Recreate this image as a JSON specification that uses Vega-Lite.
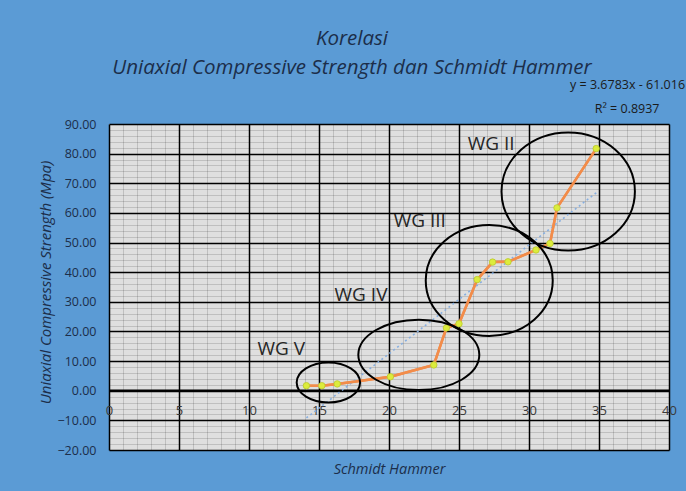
{
  "$schema": "https://vega.github.io/schema/vega-lite/v6.json",
  "width": 560,
  "height": 326,
  "autosize": {"type": "none"},
  "padding": {"left": 109, "top": 124, "right": 17, "bottom": 41},
  "background": "#5b9bd5",
  "config": {"view": {"fill": "#dfdfdf", "stroke": null}, "font": "Open Sans"},
  "title": {
    "text": ["Korelasi", "Uniaxial Compressive Strength dan Schmidt Hammer"],
    "fontSize": 20.5,
    "fontStyle": "italic",
    "fontWeight": "normal",
    "color": "#1c2e4a",
    "anchor": "middle",
    "frame": "group",
    "dx": -37,
    "offset": 1,
    "lineHeight": 29
  },
  "datasets": {
    "points": [
      {"SH": 14.1, "UCS": 1.7},
      {"SH": 15.2, "UCS": 1.7},
      {"SH": 16.3, "UCS": 2.3},
      {"SH": 20.1, "UCS": 4.7},
      {"SH": 23.2, "UCS": 8.7},
      {"SH": 24.1, "UCS": 21.2},
      {"SH": 25.0, "UCS": 22.6},
      {"SH": 26.3, "UCS": 37.5},
      {"SH": 27.4, "UCS": 43.4},
      {"SH": 28.5, "UCS": 43.5},
      {"SH": 30.5, "UCS": 47.5},
      {"SH": 31.5, "UCS": 49.7},
      {"SH": 32.0, "UCS": 61.7},
      {"SH": 34.8, "UCS": 81.7}
    ],
    "groups": [
      {"group": "WG II", "SH": 32.8, "UCS": 67.2, "lx": 27.3, "ly": 83.4},
      {"group": "WG III", "SH": 27.16, "UCS": 37.2, "lx": 22.2, "ly": 57.4},
      {"group": "WG IV", "SH": 22.13, "UCS": 12.1, "lx": 18.0, "ly": 32.2},
      {"group": "WG V", "SH": 15.67, "UCS": 2.8, "lx": 12.3, "ly": 14.2}
    ],
    "notes": [
      {"text": "y = 3.6783x - 61.016", "SH": 32.93, "UCS": 103.05},
      {"text": "R² = 0.8937", "SH": 34.7, "UCS": 94.9}
    ],
    "zero": [{"UCS": 0}]
  },
  "layer": [
    {
      "data": {"name": "points"},
      "mark": {"type": "line", "color": "#f28c4a", "strokeWidth": 2.5},
      "encoding": {
        "x": {
          "field": "SH",
          "type": "quantitative",
          "scale": {"domain": [0, 40], "nice": false, "zero": false},
          "axis": {
            "orient": "bottom",
            "values": [0,1,2,3,4,5,6,7,8,9,10,11,12,13,14,15,16,17,18,19,20,21,22,23,24,25,26,27,28,29,30,31,32,33,34,35,36,37,38,39,40],
            "tickCount": 200,
            "format": "d",
            "grid": true,
            "gridColor": {"condition": {"test": "datum.value % 5 === 0", "value": "#000000"}, "value": "rgba(0,0,0,0.14)"},
            "gridWidth": {"condition": {"test": "datum.value % 5 === 0", "value": 1.5}, "value": 1},
            "gridOpacity": 1,
            "domain": false,
            "ticks": false,
            "tickSize": 0,
            "labelExpr": "datum.value % 5 === 0 ? datum.label : ''",
            "labelPadding": -40,
            "labelBaseline": "middle",
            "labelFontSize": 13,
            "labelColor": "#3a3a3a",
            "labelFlush": false,
            "labelOverlap": false,
            "labelBound": false,
            "title": "Schmidt Hammer",
            "titleFontSize": 14.5,
            "titleFontStyle": "italic",
            "titleFontWeight": "normal",
            "titleColor": "#1c2e4a",
            "titleY": 19,
            "titleBaseline": "middle"
          }
        },
        "y": {
          "field": "UCS",
          "type": "quantitative",
          "scale": {"domain": [-20, 90], "nice": false, "zero": false},
          "axis": {
            "orient": "left",
            "values": [-20,-18,-16,-14,-12,-10,-8,-6,-4,-2,0,2,4,6,8,10,12,14,16,18,20,22,24,26,28,30,32,34,36,38,40,42,44,46,48,50,52,54,56,58,60,62,64,66,68,70,72,74,76,78,80,82,84,86,88,90],
            "tickCount": 200,
            "format": ".2f",
            "grid": true,
            "gridColor": {"condition": {"test": "datum.value % 10 === 0", "value": "#000000"}, "value": "rgba(0,0,0,0.14)"},
            "gridWidth": {"condition": {"test": "datum.value % 10 === 0", "value": 1.5}, "value": 1},
            "gridOpacity": 1,
            "domain": false,
            "ticks": false,
            "tickSize": 0,
            "labelExpr": "datum.value % 10 === 0 ? datum.label : ''",
            "labelPadding": 13,
            "labelFontSize": 12.5,
            "labelColor": "#1c2e4a",
            "labelOverlap": false,
            "labelBound": false,
            "labelFlush": false,
            "title": "Uniaxial Compressive Strength (Mpa)",
            "titleFontSize": 15,
            "titleFontStyle": "italic",
            "titleFontWeight": "normal",
            "titleColor": "#1c2e4a",
            "titleX": -64,
            "titleY": 158,
            "titleAlign": "center",
            "titleBaseline": "middle",
            "titleAngle": -90
          }
        }
      }
    },
    {
      "data": {"name": "zero"},
      "mark": {"type": "rule", "color": "#000000", "strokeWidth": 2.5},
      "encoding": {"y": {"field": "UCS", "type": "quantitative"}}
    },
    {
      "data": {"name": "points"},
      "transform": [{"regression": "UCS", "on": "SH"}],
      "mark": {"type": "line", "color": "#86aee0", "strokeWidth": 1.6, "strokeDash": [2, 3]},
      "encoding": {
        "x": {"field": "SH", "type": "quantitative"},
        "y": {"field": "UCS", "type": "quantitative"}
      }
    },
    {
      "data": {"name": "points"},
      "mark": {"type": "line", "color": "#f28c4a", "strokeWidth": 2.5},
      "encoding": {
        "x": {"field": "SH", "type": "quantitative"},
        "y": {"field": "UCS", "type": "quantitative"}
      }
    },
    {
      "data": {"name": "points"},
      "mark": {"type": "point", "filled": true, "fill": "#dcec3c", "stroke": "#b9c92e", "strokeWidth": 0.8, "size": 42, "opacity": 1},
      "encoding": {
        "x": {"field": "SH", "type": "quantitative"},
        "y": {"field": "UCS", "type": "quantitative"}
      }
    },
    {
      "data": {"name": "groups"},
      "mark": {"type": "point", "filled": false, "stroke": "#000000", "strokeWidth": 2, "size": 4, "opacity": 1},
      "encoding": {
        "x": {"field": "SH", "type": "quantitative"},
        "y": {"field": "UCS", "type": "quantitative"},
        "shape": {
          "field": "group",
          "type": "nominal",
          "legend": null,
          "scale": {
            "domain": ["WG II", "WG III", "WG IV", "WG V"],
            "range": [
              "M-66.7,0C-66.7,-32.6,-36.8,-59,0,-59C36.8,-59,66.7,-32.6,66.7,0C66.7,32.6,36.8,59,0,59C-36.8,59,-66.7,32.6,-66.7,0Z",
              "M-63.5,0C-63.5,-30.6,-35.1,-55.4,0,-55.4C35.1,-55.4,63.5,-30.6,63.5,0C63.5,30.6,35.1,55.4,0,55.4C-35.1,55.4,-63.5,30.6,-63.5,0Z",
              "M-60.5,0C-60.5,-19.4,-33.4,-35.2,0,-35.2C33.4,-35.2,60.5,-19.4,60.5,0C60.5,19.4,33.4,35.2,0,35.2C-33.4,35.2,-60.5,19.4,-60.5,0Z",
              "M-31.7,0C-31.7,-11.05,-17.5,-20,0,-20C17.5,-20,31.7,-11.05,31.7,0C31.7,11.05,17.5,20,0,20C-17.5,20,-31.7,11.05,-31.7,0Z"
            ]
          }
        }
      }
    },
    {
      "data": {"name": "groups"},
      "mark": {"type": "text", "fontSize": 19, "color": "#262626", "align": "center", "baseline": "middle"},
      "encoding": {
        "x": {"field": "lx", "type": "quantitative"},
        "y": {"field": "ly", "type": "quantitative"},
        "text": {"field": "group"}
      }
    },
    {
      "data": {"name": "notes"},
      "mark": {"type": "text", "fontSize": 12.5, "color": "#1a1a1a", "align": "left", "baseline": "middle"},
      "encoding": {
        "x": {"field": "SH", "type": "quantitative"},
        "y": {"field": "UCS", "type": "quantitative"},
        "text": {"field": "text"}
      }
    }
  ]
}
